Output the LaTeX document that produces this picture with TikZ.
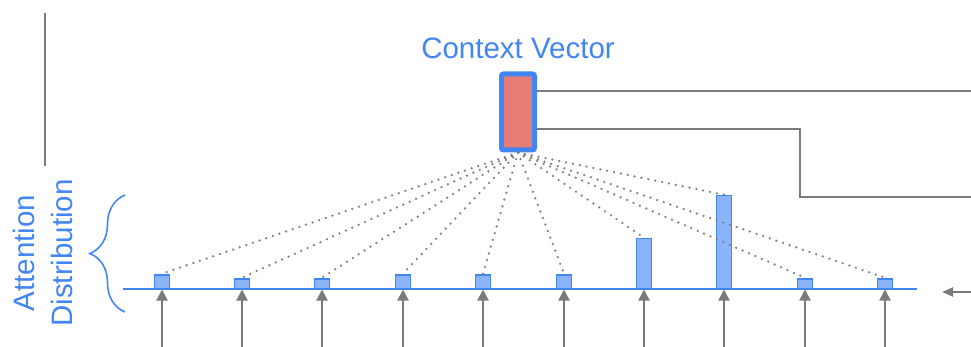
\documentclass[tikz,border=0pt]{standalone}
\usepackage{fontspec}
\setmainfont{Liberation Sans}
\usetikzlibrary{arrows.meta,decorations.pathreplacing}
\definecolor{gblue}{HTML}{4285F4}
\definecolor{barfill}{HTML}{8AB4F8}
\definecolor{salmon}{HTML}{E67C73}
\definecolor{wire}{HTML}{7A7A7A}
\definecolor{dotgray}{HTML}{7E7E7E}
\tikzset{
  wireline/.style={draw=wire, line width=2pt},
  feed/.style={wireline, -{Triangle[length=11pt,width=11pt]}},
  weightbar/.style={draw=gblue, fill=barfill, line width=1.8pt, inner sep=0pt,
    minimum width=15pt, anchor=south},
  dotlink/.style={draw=dotgray, line width=2.5pt, line cap=round, dash pattern=on 0pt off 7pt},
  bluetext/.style={text=gblue, font=\fontsize{29.5}{38}\selectfont},
}
\begin{document}
\begin{tikzpicture}[x=1pt,y=-1pt]
\useasboundingbox (0,0) rectangle (971,347);

% divider on the left
\coordinate (divTop) at (45,13);
\coordinate (divBot) at (45,166);
\draw[wireline] (divTop) -- (divBot);

% context vector
\node[bluetext] (cvlabel) at (518,48) {Context Vector};
\node[draw=gblue, fill=salmon, line width=5pt, rounded corners=2pt,
      minimum width=33pt, minimum height=76pt, inner sep=0pt] (cv) at (518,112) {};

% outgoing wires
\coordinate (out1) at (971,91);
\coordinate (bend) at (800,129);
\coordinate (out2) at (971,197);
\draw[wireline] (cv.east |- out1) -- (out1);
\draw[wireline] (cv.east |- bend) -- (bend) |- (out2);

% baseline
\coordinate (baseL) at (123,289);
\coordinate (baseR) at (917,289);
\draw[draw=gblue, line width=2pt] (baseL) -- (baseR);

% attention weights
\foreach \i/\x/\h in {1/162/14, 2/242/10, 3/322/10, 4/403/14, 5/483/14,
                      6/564/14, 7/644/50, 8/724/93, 9/805/10, 10/885/10} {
  \node[weightbar, minimum height=\h pt] (b\i) at (\x,289.5) {};
  \coordinate (src\i) at (\x,347);
  \draw[feed] (src\i) -- (b\i.south);
  \draw[dotlink] (cv.south) -- (b\i.north);
}

% incoming arrow on the right
\coordinate (inR) at (971,292);
\coordinate (inTip) at (942,292);
\draw[feed, -{Triangle[length=11pt,width=9pt]}] (inR) -- (inTip);

% brace and label
\coordinate (brBot) at (125,312);
\coordinate (brTop) at (125,195);
\draw[draw=gblue, line width=1.6pt, decorate,
      decoration={brace, amplitude=35pt}] (brBot) -- (brTop);
\node[bluetext, rotate=90, align=center] (attlabel) at (43,253)
  {Attention\\Distribution};
\end{tikzpicture}
\end{document}
